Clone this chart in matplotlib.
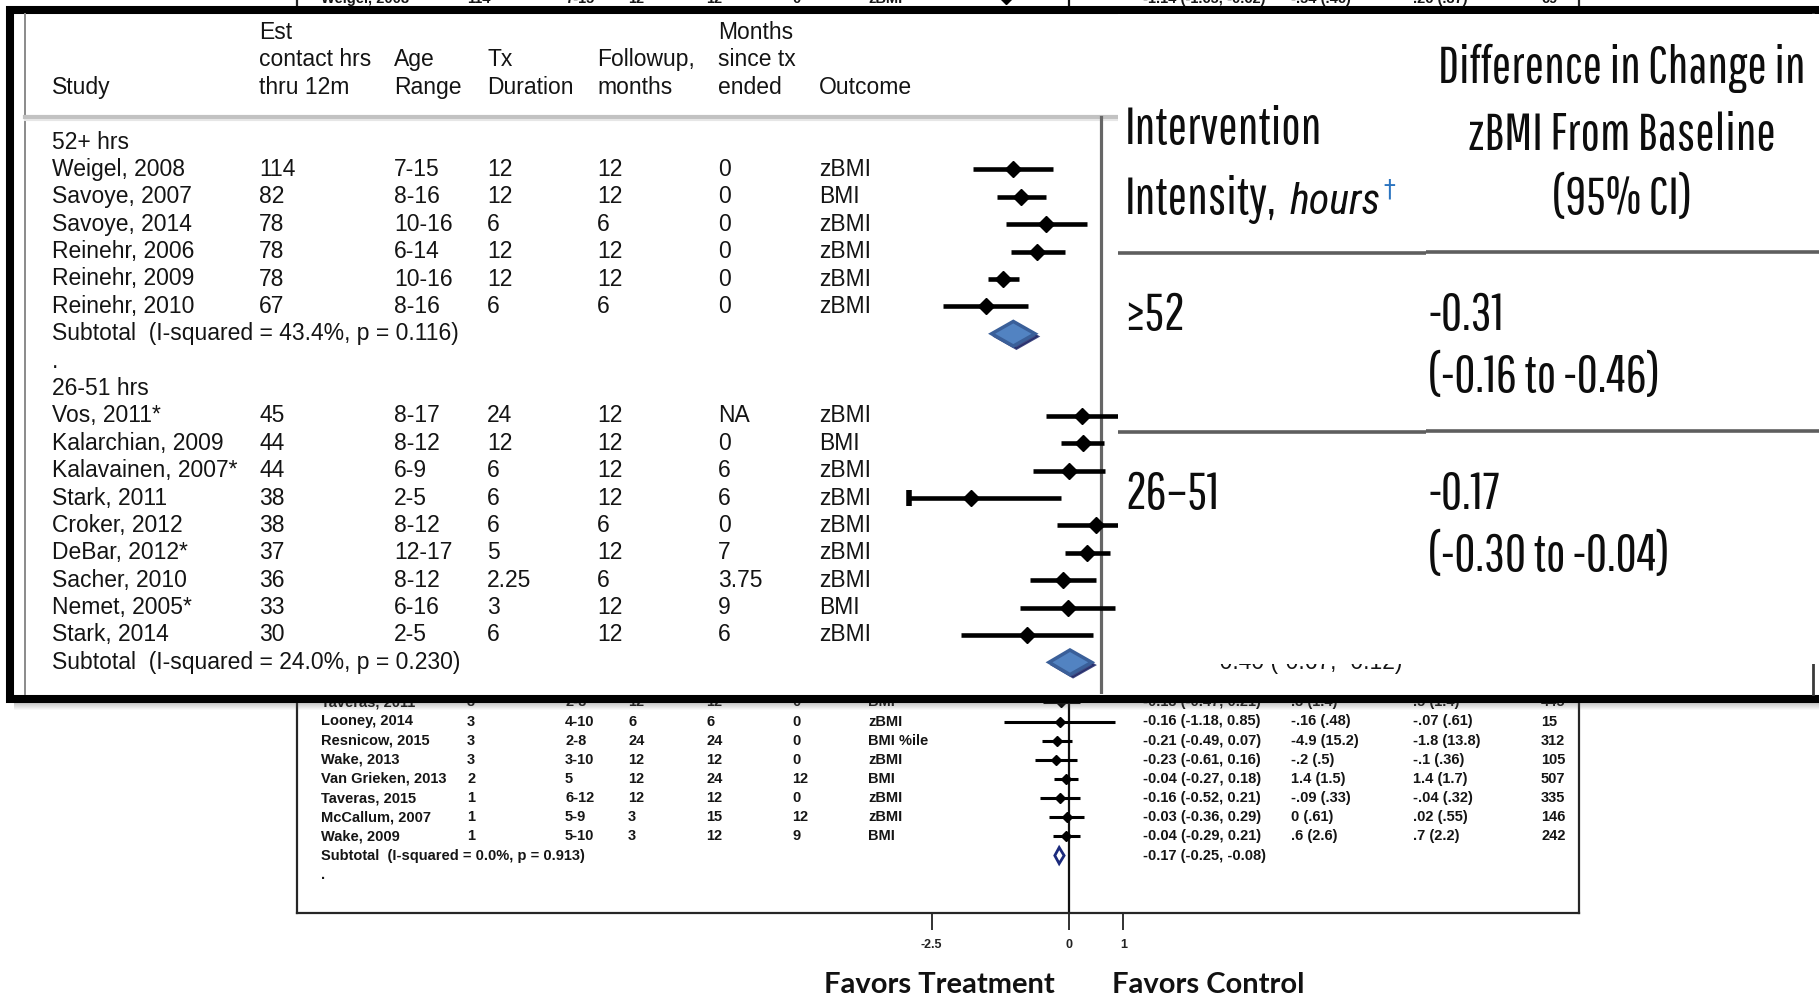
import matplotlib
matplotlib.use("Agg")
import matplotlib.pyplot as plt
import numpy as np
from matplotlib.patches import Polygon, Rectangle
from matplotlib.transforms import blended_transform_factory

plt.rcParams["font.family"] = ["Liberation Sans", "DejaVu Sans"]
NARROW = ["Pathway Gothic One", "DejaVu Sans"]
NARROW_IT = ["Roboto Condensed", "DejaVu Sans"]

W, H, DPI = 1819, 997, 100

# enlarged excerpt, 52+ hrs group
high_study = ["Weigel, 2008", "Savoye, 2007", "Savoye, 2014", "Reinehr, 2006", "Reinehr, 2009", "Reinehr, 2010"]
high_hrs = ["114", "82", "78", "78", "78", "67"]
high_age = ["7-15", "8-16", "10-16", "6-14", "10-16", "8-16"]
high_tx = ["12", "12", "6", "12", "12", "6"]
high_fu = ["12", "12", "6", "12", "12", "6"]
high_since = ["0", "0", "0", "0", "0", "0"]
high_outcome = ["zBMI", "BMI", "zBMI", "zBMI", "zBMI", "zBMI"]
high_es = [-1.14, -1.03, -0.71, -0.82, -1.26, -1.48]
high_lo = [-1.65, -1.34, -1.22, -1.16, -1.45, -2.03]
high_hi = [-0.62, -0.71, -0.18, -0.46, -1.06, -0.94]
high_sub = [-1.13, -1.41, -0.85]
high_sub_label = "Subtotal  (I-squared = 43.4%, p = 0.116)"

# enlarged excerpt, 26-51 hrs group
mid_study = ["Vos, 2011*", "Kalarchian, 2009", "Kalavainen, 2007*", "Stark, 2011", "Croker, 2012",
             "DeBar, 2012*", "Sacher, 2010", "Nemet, 2005*", "Stark, 2014"]
mid_hrs = ["45", "44", "44", "38", "38", "37", "36", "33", "30"]
mid_age = ["8-17", "8-12", "6-9", "2-5", "8-12", "12-17", "8-12", "6-16", "2-5"]
mid_tx = ["24", "12", "6", "6", "6", "5", "2.25", "3", "6"]
mid_fu = ["12", "12", "12", "12", "6", "12", "6", "12", "12"]
mid_since = ["NA", "0", "6", "6", "0", "7", "3.75", "9", "6"]
mid_outcome = ["zBMI", "BMI", "zBMI", "zBMI", "zBMI", "zBMI", "zBMI", "BMI", "zBMI"]
mid_es = [-0.25, -0.23, -0.41, -1.67, -0.06, -0.18, -0.49, -0.43, -0.96]
mid_lo = [-0.71, -0.51, -0.87, -2.48, -0.57, -0.46, -0.91, -1.05, -1.80]
mid_hi = [0.30, 0.04, 0.05, -0.51, 0.45, 0.11, -0.06, 0.18, -0.10]
mid_sub = [-0.40, -0.67, -0.12]
mid_sub_label = "Subtotal  (I-squared = 24.0%, p = 0.230)"

header_rows = [
    ["", "Est", "", "", "", "Months", ""],
    ["", "contact hrs", "Age", "Tx", "Followup,", "since tx", ""],
    ["Study", "thru 12m", "Range", "Duration", "months", "ended", "Outcome"],
]

# original plot underneath, lowest-intensity rows
low_study = ["Taveras, 2011", "Looney, 2014", "Resnicow, 2015", "Wake, 2013", "Van Grieken, 2013",
             "Taveras, 2015", "McCallum, 2007", "Wake, 2009"]
low_hrs = ["3", "3", "3", "3", "2", "1", "1", "1"]
low_age = ["2-8", "4-10", "2-8", "3-10", "5", "6-12", "5-9", "5-10"]
low_tx = ["12", "6", "24", "12", "12", "12", "3", "3"]
low_fu = ["12", "6", "24", "12", "24", "12", "15", "12"]
low_since = ["0", "0", "0", "0", "12", "0", "12", "9"]
low_outcome = ["BMI", "zBMI", "BMI %ile", "zBMI", "BMI", "zBMI", "zBMI", "BMI"]
low_es = [-0.13, -0.16, -0.21, -0.23, -0.04, -0.16, -0.03, -0.04]
low_lo = [-0.47, -1.18, -0.49, -0.61, -0.27, -0.52, -0.36, -0.29]
low_hi = [0.21, 0.85, 0.07, 0.16, 0.18, 0.21, 0.29, 0.21]
low_tx_mean = [".3 (1.4)", "-.16 (.48)", "-4.9 (15.2)", "-.2 (.5)", "1.4 (1.5)", "-.09 (.33)", "0 (.61)", ".6 (2.6)"]
low_ctl_mean = [".5 (1.4)", "-.07 (.61)", "-1.8 (13.8)", "-.1 (.36)", "1.4 (1.7)", "-.04 (.32)", ".02 (.55)", ".7 (2.2)"]
low_n = ["445", "15", "312", "105", "507", "335", "146", "242"]
low_sub = [-0.17, -0.25, -0.08]
low_sub_label = "Subtotal  (I-squared = 0.0%, p = 0.913)"
top_row_means = ["-.54 (.46)", ".26 (.37)", "69"]

axis_ticks = [-2.5, 0, 1]
axis_ticklabels = ["-2.5", "0", "1"]

# summary table pasted on the right
panel_groups = ["\u226552", "26\u201351"]
panel_est = ["-0.31", "-0.17"]
panel_ci = ["(-0.16 to -0.46)", "(-0.30 to -0.04)"]
panel_right_head = ["Difference in Change in", "zBMI From Baseline", "(95% CI)"]

# pixel layout of the two copies of the plot
FG_ZERO, FG_UNIT, FG_ROW0, FG_STEP = 1101, 77.6, 142.1, 27.38
BG_ZERO, BG_UNIT, BG_ROW0, BG_STEP = 1068.5, 54.8, 721.5, 19.15

fig = plt.figure(figsize=(W / DPI, H / DPI), dpi=DPI)


def px_axes(x0, y0, x1, y1, z):
    ax = fig.add_axes([x0 / W, 1 - y1 / H, (x1 - x0) / W, (y1 - y0) / H], zorder=z)
    ax.patch.set_alpha(0)
    return ax


def canvas(z):
    ax = px_axes(0, 0, W, H, z)
    ax.set_xlim(0, W)
    ax.set_ylim(H, 0)
    ax.axis("off")
    return ax


def diamond(ax, vals, y, h, **kw):
    e, lo, hi = vals
    ax.add_patch(Polygon([(lo, y), (e, y - h), (hi, y), (e, y + h)], closed=True, **kw))


# ---------------- original forest plot (bottom layer) ----------------
bg = px_axes(297, -40, 1579, 913, 1)
bg.set_xlim((297 - BG_ZERO) / BG_UNIT, (1579 - BG_ZERO) / BG_UNIT)
bg.set_ylim((913 - BG_ROW0) / BG_STEP, (-40 - BG_ROW0) / BG_STEP)
bg.spines["top"].set_visible(False)
for s in ["left", "right", "bottom"]:
    bg.spines[s].set_color("#262626")
    bg.spines[s].set_linewidth(1.6)
bg.set_yticks([])
bg.set_xticks(axis_ticks, axis_ticklabels)
bg.tick_params(axis="x", direction="out", length=12, width=1.3, colors="#222222", labelsize=9, pad=7)
for lbl in bg.get_xticklabels():
    lbl.set_fontweight("bold")
bg.axvline(0, color="#111111", lw=1.6)

low_cv = canvas(2)
tb = blended_transform_factory(low_cv.transData, bg.transData)
low_y = np.arange(len(low_study)) - 1
low_cols = [low_study, low_hrs, low_age, low_tx, low_fu, low_since, low_outcome]
bg_x = [321, 467, 565, 628, 706, 792, 868]
bgtxt = dict(transform=tb, fontsize=10.5, fontweight="bold", va="center", color="#151515")
for xs, col in zip(bg_x, low_cols):
    for y, s in zip(low_y, col):
        bg.text(xs, y, s, **bgtxt)
low_es_txt = [f"{e:.2f} ({l:.2f}, {h:.2f})" for e, l, h in zip(low_es, low_lo, low_hi)]
for xs, col in zip([1143, 1291, 1413, 1541], [low_es_txt, low_tx_mean, low_ctl_mean, low_n]):
    for y, s in zip(low_y, col):
        bg.text(xs, y, s, **bgtxt)
sub_y = low_y[-1] + 1
bg.text(bg_x[0], sub_y, low_sub_label, **bgtxt)
bg.text(1143, sub_y, f"{low_sub[0]:.2f} ({low_sub[1]:.2f}, {low_sub[2]:.2f})", **bgtxt)
bg.text(bg_x[0], sub_y + 1, ".", **bgtxt)
bg.hlines(low_y, low_lo, low_hi, color="k", lw=2.2)
bg.plot(low_es, low_y, "D", color="k", ms=5.5)
diamond(bg, low_sub, sub_y, 0.42, facecolor="white", edgecolor="#1b2a7c", lw=2)

# first row of the original plot, peeking above the pasted excerpt
top_y = -37.75
top_vals = [high_study[0], high_hrs[0], high_age[0], high_tx[0], high_fu[0], high_since[0], high_outcome[0]]
for xs, s in zip(bg_x, top_vals):
    bg.text(xs, top_y, s, **bgtxt)
top_es = f"{high_es[0]:.2f} ({high_lo[0]:.2f}, {high_hi[0]:.2f})"
for xs, s in zip([1143, 1291, 1413, 1541], [top_es] + top_row_means):
    bg.text(xs, top_y, s, **bgtxt)
bg.hlines([top_y], [high_lo[0]], [high_hi[0]], color="k", lw=2.2)
bg.plot([high_es[0]], [top_y], "D", color="k", ms=5.5)

low_cv.text(939.5, 985, "Favors Treatment", ha="center", va="center", family=["Lato", "DejaVu Sans"],
            fontweight="bold", fontsize=21, color="#111111")
low_cv.text(1208, 985, "Favors Control", ha="center", va="center", family=["Lato", "DejaVu Sans"],
            fontweight="bold", fontsize=21, color="#111111")

# ---------------- pasted, enlarged excerpt ----------------
low_cv.add_patch(Rectangle((9.5, 10), 1900, 688.5, facecolor="white", edgecolor="black", lw=5.8))
for k in range(7):
    low_cv.add_patch(Rectangle((14, 702.5 + k), W, 1, facecolor="#555555", edgecolor="none",
                               alpha=0.32 * (1 - k / 7)))
low_cv.plot([25, 25], [14, 694], color="#8a8a8a", lw=1.4)
low_cv.plot([1813, 1813], [14, 694], color="#3a3a3a", lw=2)
low_cv.plot([25, 1118], [117.5, 117.5], color="#c2c2c2", lw=3)
low_cv.plot([25, 1118], [120.5, 120.5], color="#e6e6e6", lw=1.5)

fg = px_axes(25, 14, 1819, 694, 3)
fg.set_xlim((25 - FG_ZERO) / FG_UNIT, (1819 - FG_ZERO) / FG_UNIT)
fg.set_ylim((694 - FG_ROW0) / FG_STEP, (14 - FG_ROW0) / FG_STEP)
fg.axis("off")
tf = blended_transform_factory(low_cv.transData, fg.transData)
fgtxt = dict(transform=tf, fontsize=16.5, va="center", color="#141414")
fg_x = [52, 259, 394, 487, 597, 718, 819]

for r, row in enumerate(header_rows):
    for xs, s in zip(fg_x, row):
        if s:
            fg.text(xs, r - 4, s, **fgtxt)

fg.plot([0, 0], [-0.92, (694 - FG_ROW0) / FG_STEP], color="#666666", lw=2.3)

groups = [
    ("52+ hrs", 0, [high_study, high_hrs, high_age, high_tx, high_fu, high_since, high_outcome],
     high_es, high_lo, high_hi, high_sub, high_sub_label),
    ("26-51 hrs", 9, [mid_study, mid_hrs, mid_age, mid_tx, mid_fu, mid_since, mid_outcome],
     mid_es, mid_lo, mid_hi, mid_sub, mid_sub_label),
]
for name, start, cols, es, lo, hi, sub, sub_label in groups:
    fg.text(fg_x[0], start, name, **fgtxt)
    ys = start + 1 + np.arange(len(es))
    for xs, col in zip(fg_x, cols):
        for y, s in zip(ys, col):
            fg.text(xs, y, s, **fgtxt)
    fg.hlines(ys, lo, hi, color="k", lw=3.3)
    fg.plot(es, ys, "D", color="k", ms=8)
    sy = ys[-1] + 1
    fg.text(fg_x[0], sy, sub_label, **fgtxt)
    shadow = [sub[0] + 0.04, sub[1] + 0.04, sub[2] + 0.04]
    diamond(fg, shadow, sy + 0.1, 0.45, facecolor="#1e2768", edgecolor="#1e2768", lw=1.5, alpha=0.85)
    diamond(fg, sub, sy, 0.45, facecolor="#5283c2", edgecolor="#3a5f99", lw=2.5)
    fg.text(1212, sy, f"{sub[0]:.2f} ({sub[1]:.2f}, {sub[2]:.2f})", **fgtxt)
fg.text(fg_x[0], 8, ".", **fgtxt)
# Stark 2011 interval runs off the left of the scale
fg.plot([mid_lo[3]], [13], "|", color="k", ms=11, mew=4)

# ---------------- summary table pasted on the right ----------------
hi_cv = canvas(4)
hi_cv.add_patch(Rectangle((1118, 14), W - 1118 + 5, 664 - 14, facecolor="white", edgecolor="none"))
for y in (253.5, 432):
    hi_cv.plot([1118, 1426], [y, y], color="#5e5e5e", lw=2.6, solid_capstyle="butt")
    hi_cv.plot([1426, W], [y - 1.5, y - 1.5], color="#5e5e5e", lw=2.6, solid_capstyle="butt")

renderer = fig.canvas.get_renderer()
inv = hi_cv.transData.inverted()


def fit_size(strings, widths, **kw):
    # font size that gives the condensed text the widths it has in the picture
    probes = [hi_cv.text(0, 0, s, fontsize=40, **kw) for s in strings]
    got = sum(t.get_window_extent(renderer).width for t in probes)
    for t in probes:
        t.remove()
    return 40 * sum(widths) / got


size = fit_size(["Intervention", "Difference in Change in", "zBMI From Baseline", "(-0.16 to -0.46)"],
                [192, 377, 317, 220], family=NARROW)
size_it = fit_size(["hours"], [91], family=NARROW_IT, fontstyle="italic")
ptxt = dict(family=NARROW, fontsize=size, va="baseline", color="#0d0d0d")

hi_cv.text(1125, 144, "Intervention", **ptxt)
t1 = hi_cv.text(1125, 214, "Intensity,", **ptxt)
x1 = inv.transform((t1.get_window_extent(renderer).x1, 0))[0]
t2 = hi_cv.text(x1 + 13, 214, "hours", family=NARROW_IT, fontstyle="italic", fontsize=size_it,
                va="baseline", color="#0d0d0d")
x2 = inv.transform((t2.get_window_extent(renderer).x1, 0))[0]
hi_cv.text(x2 + 3, 196, "\u2020", family=["DejaVu Sans"], fontsize=17, va="baseline", color="#2b74c0")

for s, y in zip(panel_right_head, [83, 150, 214]):
    hi_cv.text(1622, y, s, ha="center", **ptxt)
for g, e, c, y in zip(panel_groups, panel_est, panel_ci, [330, 509]):
    hi_cv.text(1125, y, g, **ptxt)
    hi_cv.text(1428, y, e, **ptxt)
    hi_cv.text(1428, y + 62, c, **ptxt)

fig.savefig("out.png", dpi=DPI, facecolor="white")
